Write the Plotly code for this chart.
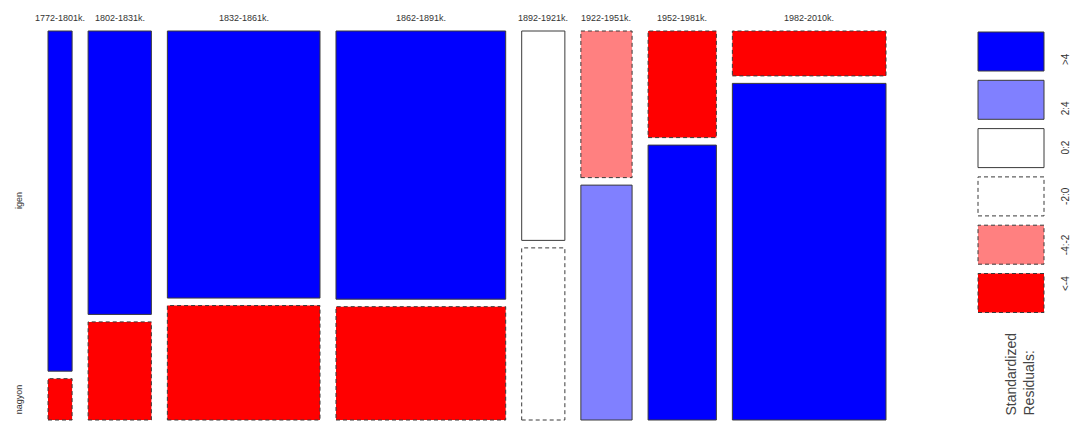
import numpy as np
import plotly.graph_objects as go

# Counts per period (columns) and answer level (rows)
periods = ["1772-1801k.", "1802-1831k.", "1832-1861k.", "1862-1891k.",
           "1892-1921k.", "1922-1951k.", "1952-1981k.", "1982-2010k."]
levels = ["igen", "nagyon"]
igen = [107, 234, 532, 594, 118, 98, 95, 90]
nagyon = [13, 81, 228, 251, 97, 157, 245, 675]

# Residual shading classes
shade_labels = [">4", "2:4", "0:2", "-2:0", "-4:-2", "<-4"]
shade_fills = ["#0000FF", "#8080FF", "#FFFFFF", "#FFFFFF", "#FF8080", "#FF0000"]

W, H = 1073, 421
counts = np.array([igen, nagyon], dtype=float)          # rows x cols
col_tot = counts.sum(axis=0)
row_tot = counts.sum(axis=1)
N = counts.sum()
expected = np.outer(row_tot, col_tot) / N
resid = (counts - expected) / np.sqrt(expected)          # Pearson residuals


def shade_index(r):
    if r > 4:
        return 0
    if r > 2:
        return 1
    if r > 0:
        return 2
    if r > -2:
        return 3
    if r > -4:
        return 4
    return 5


# Mosaic layout in unit coordinates: x in [0,1], y in [0,1] (top = 1)
gap_x = 16 / 838
gap_y = 7.5 / 389
ncol = len(periods)
usable_x = 1 - gap_x * (ncol - 1)
widths = col_tot / N * usable_x
lefts = np.concatenate([[0], np.cumsum(widths + gap_x)[:-1]])

fig = go.Figure()
line_col = "#3a3a3a"

for j in range(ncol):
    x0, x1 = lefts[j], lefts[j] + widths[j]
    frac = counts[:, j] / col_tot[j]
    usable_y = 1 - gap_y
    top = 1.0
    for i in range(len(levels)):
        h = frac[i] * usable_y
        y1, y0 = top, top - h
        k = shade_index(resid[i, j])
        fig.add_trace(go.Scatter(
            x=[x0, x1, x1, x0, x0], y=[y0, y0, y1, y1, y0],
            mode="lines", fill="toself", fillcolor=shade_fills[k],
            line=dict(color=line_col, width=1,
                      dash="solid" if resid[i, j] > 0 else "4px,3px"),
            hoverinfo="skip", showlegend=False))
        top = y0 - gap_y
    fig.add_annotation(x=(x0 + x1) / 2, y=1, xref="x", yref="y",
                       text=periods[j], showarrow=False, yanchor="bottom",
                       yshift=6, font=dict(size=9, color="#333333"))

# Row labels follow the first column's cells
frac0 = counts[:, 0] / col_tot[0]
top = 1.0
for i, lev in enumerate(levels):
    h = frac0[i] * (1 - gap_y)
    fig.add_annotation(x=0, y=top - h / 2, xref="x", yref="y", text=lev,
                       showarrow=False, textangle=-90, xanchor="center",
                       xshift=-29, font=dict(size=9, color="#333333"))
    top = top - h - gap_y

# Shading key
for k, (lab, col) in enumerate(zip(shade_labels, shade_fills)):
    y_top = 32 + k * 48.3
    y_bot = y_top + 39
    fig.add_shape(type="rect", xref="paper", yref="paper",
                  x0=978 / W, x1=1044 / W, y0=1 - y_bot / H, y1=1 - y_top / H,
                  fillcolor=col,
                  line=dict(color=line_col, width=1,
                            dash="solid" if k < 3 else "4px,3px"))
    fig.add_annotation(x=1.0, y=1 - (y_top + y_bot) / 2 / H,
                       xref="paper", yref="paper", text=lab, showarrow=False,
                       textangle=-90, xanchor="right",
                       font=dict(size=10, color="#333333"))

fig.add_annotation(x=1019 / W, y=1 - 418 / H, xref="paper", yref="paper",
                   text="Standardized<br>Residuals:", showarrow=False,
                   textangle=-90, align="left", xanchor="center",
                   yanchor="bottom",
                   font=dict(size=14, color="#444444"))

# Axis ranges place the unit mosaic at its pixel frame
px_l, px_r = 48, 886
py_t, py_b = 31, 420
sx = px_r - px_l
sy = py_b - py_t
fig.update_xaxes(range=[-px_l / sx, (W - px_l) / sx], visible=False,
                 fixedrange=True)
fig.update_yaxes(range=[-(H - py_b) / sy, py_b / sy], visible=False,
                 fixedrange=True)

fig.update_layout(
    width=W, height=H,
    margin=dict(l=0, r=0, t=0, b=0),
    paper_bgcolor="white", plot_bgcolor="white",
    font=dict(family="Liberation Sans, Arial, sans-serif"),
    showlegend=False,
)

fig.write_html("out.html", config={"displayModeBar": False})
